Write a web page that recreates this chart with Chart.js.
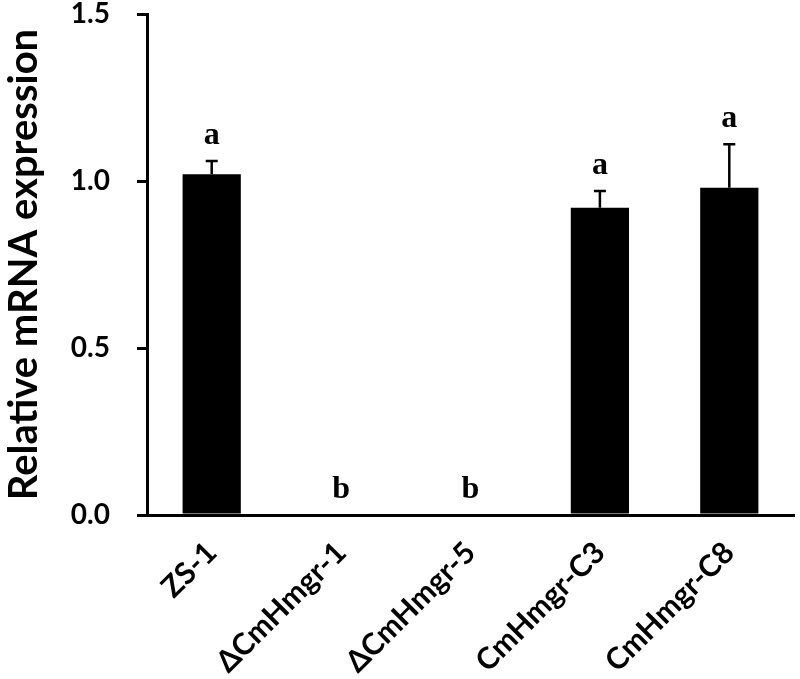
<!DOCTYPE html>
<html lang="en">
<head>
    <meta charset="UTF-8">
    <title>Relative mRNA expression</title>
    <script src="https://cdn.jsdelivr.net/npm/chart.js"></script>
    <style>
        body { margin: 0; background: #ffffff; }
        #wrap { width: 800px; height: 679px; }
    </style>
</head>
<body>
    <div id="wrap"><canvas id="chart" width="800" height="679"></canvas></div>
    <script>
        // values
        const strains = ['ZS-1', 'ΔCmHmgr-1', 'ΔCmHmgr-5', 'CmHmgr-C3', 'CmHmgr-C8'];
        const expression = [1.02, 0, 0, 0.92, 0.98];
        const errUp = [0.04, 0, 0, 0.05, 0.13];
        const sigLetters = ['a', 'b', 'b', 'a', 'a'];
        const yTickValues = [0.0, 0.5, 1.0, 1.5];

        // upper error bars + significance letters
        const errorBars = {
            id: 'errorBars',
            afterDatasetsDraw(chart) {
                const ctx = chart.ctx;
                const y = chart.scales.y;
                const meta = chart.getDatasetMeta(0);
                ctx.save();
                ctx.strokeStyle = '#000';
                ctx.lineWidth = 2.5;
                meta.data.forEach((bar, i) => {
                    const top = y.getPixelForValue(expression[i] + errUp[i]);
                    const base = y.getPixelForValue(expression[i]);
                    if (errUp[i] > 0) {
                        ctx.beginPath();
                        ctx.moveTo(bar.x, base);
                        ctx.lineTo(bar.x, top);
                        ctx.moveTo(bar.x - 6, top);
                        ctx.lineTo(bar.x + 6, top);
                        ctx.stroke();
                    }
                    ctx.fillStyle = '#000';
                    ctx.font = 'bold 32px "Liberation Serif", serif';
                    ctx.textAlign = 'center';
                    ctx.textBaseline = 'alphabetic';
                    ctx.fillText(sigLetters[i], bar.x, top - 17);
                });
                ctx.restore();
            }
        };

        new Chart(document.getElementById('chart'), {
            type: 'bar',
            data: {
                labels: strains,
                datasets: [{
                    data: expression,
                    backgroundColor: '#000',
                    borderWidth: 0,
                    barPercentage: 0.45,
                    categoryPercentage: 1.0
                }]
            },
            options: {
                responsive: false,
                animation: false,
                events: [],
                layout: { padding: { top: 14, right: 6, left: 0, bottom: 0 } },
                plugins: { legend: { display: false }, tooltip: { enabled: false } },
                scales: {
                    x: {
                        grid: { display: false, drawTicks: false },
                        border: { display: true, color: '#000', width: 3 },
                        ticks: {
                            color: '#000',
                            font: { family: 'Lato', weight: 'bold', size: 30 },
                            maxRotation: 45, minRotation: 45,
                            padding: 20
                        },
                        afterFit(scale) { scale.height = 164; scale.paddingLeft = 0; scale.paddingRight = 0; }
                    },
                    y: {
                        min: 0, max: 1.5,
                        afterBuildTicks(scale) { scale.ticks = yTickValues.map(v => ({ value: v })); },
                        grid: { drawOnChartArea: false, drawTicks: true, tickLength: 10, color: '#000', lineWidth: 3 },
                        border: { display: true, color: '#000', width: 3 },
                        ticks: {
                            color: '#000',
                            font: { family: 'Lato', weight: 'bold', size: 28 },
                            padding: 27,
                            callback: v => v.toFixed(1)
                        },
                        title: {
                            display: true,
                            text: 'Relative mRNA expression',
                            color: '#000',
                            font: { family: 'Lato', weight: 'bold', size: 40 },
                            padding: { top: 0, bottom: 3 }
                        },
                        afterFit(scale) { scale.width = 147; scale.paddingTop = 0; scale.paddingBottom = 0; }
                    }
                }
            },
            plugins: [errorBars]
        });
    </script>
</body>
</html>
